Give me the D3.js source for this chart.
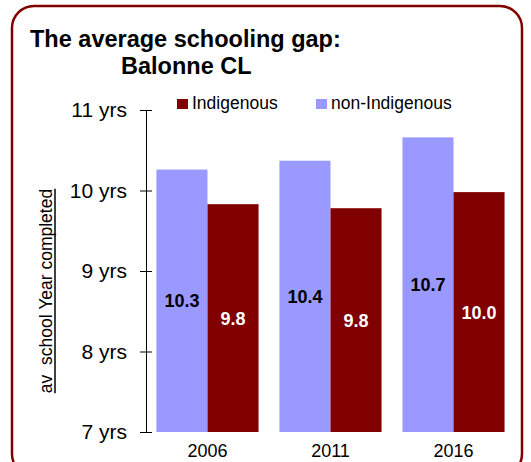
<!DOCTYPE html>
<html><head><meta charset="utf-8">
<script src="https://cdn.jsdelivr.net/npm/d3@7"></script>
<style>body{margin:0;background:#fff}svg{display:block;font-family:"Liberation Sans",Arial,sans-serif}</style>
</head><body><svg id="c" width="531" height="462"></svg>
<script>
const years = ["2006","2011","2016"];
const seriesNames = ["non-Indigenous","Indigenous"];
const nonIndigenous = [10.26, 10.37, 10.66];
const indigenous = [9.83, 9.78, 9.98];
const yTicks = [7, 8, 9, 10, 11];
const colors = {"non-Indigenous":"#9999FF","Indigenous":"#800000"};

const svg = d3.select("#c");
svg.append("rect").attr("x",12).attr("y",6).attr("width",510).attr("height",470)
  .attr("rx",22).attr("fill","#fff").attr("stroke","#800000").attr("stroke-width",2.5);

svg.append("text").attr("x",30).attr("y",46.5).attr("font-size",23.5).attr("font-weight","bold")
  .text("The average schooling gap:");
svg.append("text").attr("x",121).attr("y",73.5).attr("font-size",23.5).attr("font-weight","bold")
  .text("Balonne CL");

const y = d3.scaleLinear().domain([7,11]).range([432,110]);
const x0 = d3.scaleBand().domain(years).range([146,515]).paddingInner(0.17).paddingOuter(0.085);
const x1 = d3.scaleBand().domain(seriesNames).range([0,x0.bandwidth()]);

const data = years.map((yr,i)=>({year:yr, vals:[
  {s:"non-Indigenous", v:nonIndigenous[i]},
  {s:"Indigenous", v:indigenous[i]}]}));

const g = svg.append("g");
const grp = g.selectAll("g.grp").data(data).join("g").attr("transform",d=>`translate(${x0(d.year)},0)`);
grp.selectAll("rect").data(d=>d.vals).join("rect")
  .attr("x",d=>x1(d.s)).attr("width",x1.bandwidth())
  .attr("y",d=>y(d.v)).attr("height",d=>y(7)-y(d.v))
  .attr("fill",d=>colors[d.s]);
grp.selectAll("text").data(d=>d.vals).join("text")
  .attr("x",d=>x1(d.s)+x1.bandwidth()/2)
  .attr("y",d=>(y(d.v)+y(7))/2)
  .attr("dy","0.36em")
  .attr("text-anchor","middle").attr("font-size",18).attr("font-weight","bold")
  .attr("fill",d=>d.s==="Indigenous"?"#fff":"#000")
  .text(d=>d.v.toFixed(1));

// y axis
const yAxis = d3.axisLeft(y).tickValues(yTicks).tickFormat(d=>d+" yrs").tickSizeInner(6).tickSizeOuter(0).tickPadding(13);
const ya = svg.append("g").attr("transform","translate(146,0)").call(yAxis);
ya.select(".domain").attr("stroke","#000");
ya.selectAll(".tick line").attr("x1",-6).attr("x2",6).attr("stroke","#000");
ya.selectAll(".tick text").attr("font-size",21).attr("font-family","Liberation Sans, Arial, sans-serif").attr("fill","#000");

// x axis labels
const xAxis = d3.axisBottom(x0).tickSize(0).tickPadding(12);
const xa = svg.append("g").attr("transform","translate(0,432)").call(xAxis);
xa.select(".domain").remove();
xa.selectAll(".tick text").attr("font-size",18).attr("font-family","Liberation Sans, Arial, sans-serif").attr("fill","#000");

// y label
const yl = svg.append("text").attr("transform","translate(52,291) rotate(-90)")
  .attr("text-anchor","middle").attr("font-size",17.5).style("white-space","pre")
  .text("av  school Year completed");
const len = yl.node().getComputedTextLength();
svg.append("line").attr("x1",55).attr("x2",55).attr("y1",291-len/2).attr("y2",291+len/2)
  .attr("stroke","#000").attr("stroke-width",1.5);

// legend
const legendItems = [{s:"Indigenous",x:177},{s:"non-Indigenous",x:316}];
const lg = svg.selectAll("g.lg").data(legendItems).join("g").attr("transform",d=>`translate(${d.x},99)`);
lg.append("rect").attr("width",11).attr("height",10).attr("fill",d=>colors[d.s]);
lg.append("text").attr("x",15).attr("y",10).attr("font-size",17.5).text(d=>d.s);
</script></body></html>
